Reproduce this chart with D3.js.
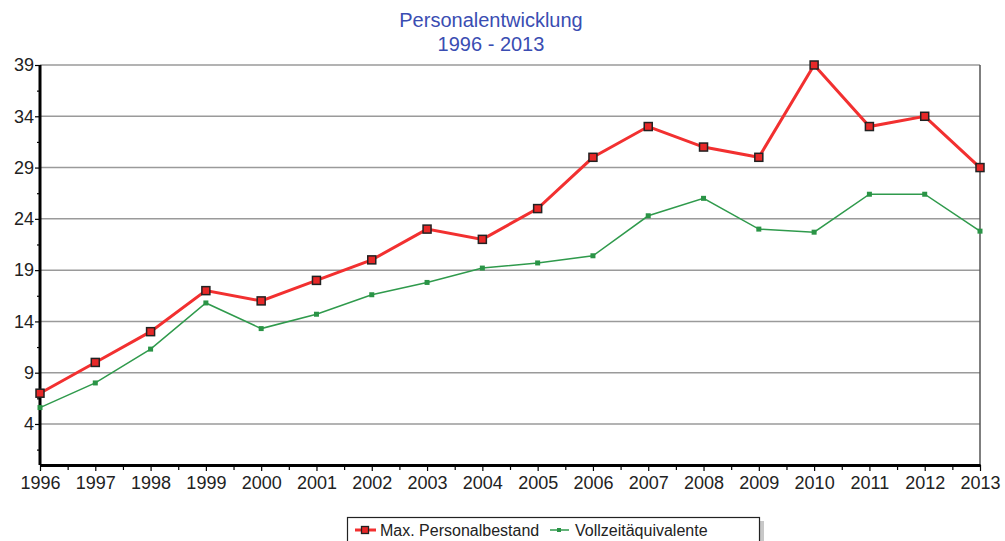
<!DOCTYPE html>
<html>
<head>
<meta charset="utf-8">
<script src="https://cdn.jsdelivr.net/npm/d3@7"></script>
<style>
  body { margin: 0; background: #fff; }
  svg text { font-family: "Liberation Sans", Arial, sans-serif; }
</style>
</head>
<body>
<div id="chart"></div>
<script>
const years = [1996, 1997, 1998, 1999, 2000, 2001, 2002, 2003, 2004, 2005, 2006, 2007, 2008, 2009, 2010, 2011, 2012, 2013];
const maxPersonal = [7, 10, 13, 17, 16, 18, 20, 23, 22, 25, 30, 33, 31, 30, 39, 33, 34, 29];
const vollzeit = [5.6, 8.0, 11.3, 15.8, 13.3, 14.7, 16.6, 17.8, 19.2, 19.7, 20.4, 24.3, 26.0, 23.0, 22.7, 26.4, 26.4, 22.8];
const yTicks = [4, 9, 14, 19, 24, 29, 34, 39];
const yMinor = [1.5, 6.5, 11.5, 16.5, 21.5, 26.5, 31.5, 36.5];
const titleLines = ["Personalentwicklung", "1996 - 2013"];
const seriesNames = ["Max. Personalbestand", "Vollzeitäquivalente"];

const W = 1005, H = 541;
const margin = { top: 65, right: 25, bottom: 76, left: 40 };

const svg = d3.select("#chart").append("svg")
    .attr("width", W)
    .attr("height", H);

const x = d3.scaleLinear()
    .domain([1996, 2013])
    .range([margin.left, W - margin.right]);

const y = d3.scaleLinear()
    .domain([0, 39])
    .range([H - margin.bottom, margin.top]);

// title
svg.selectAll(".title")
    .data(titleLines)
    .enter().append("text")
        .attr("x", 491)
        .attr("y", (d, i) => 27 + i * 24)
        .attr("text-anchor", "middle")
        .style("font-size", "20px")
        .style("fill", "#3a4db2")
        .text(d => d);

// gridlines
svg.append("g")
    .selectAll("line")
    .data(yTicks)
    .enter().append("line")
        .attr("x1", x(1996))
        .attr("x2", x(2013))
        .attr("y1", d => y(d))
        .attr("y2", d => y(d))
        .style("stroke", "#9a9a9a")
        .style("stroke-width", 1.5);

// right border
svg.append("line")
    .attr("x1", x(2013)).attr("x2", x(2013))
    .attr("y1", y(39)).attr("y2", y(0))
    .style("stroke", "#555")
    .style("stroke-width", 1.5);

// y axis
const yAxis = d3.axisLeft(y).tickValues(yTicks).tickSize(5).tickSizeOuter(0);
const gy = svg.append("g")
    .attr("transform", "translate(" + margin.left + ",0)")
    .call(yAxis);
gy.select(".domain").attr("d", "M0," + y(39) + "V" + y(0)).style("stroke", "#000").style("stroke-width", 3);
gy.selectAll(".tick line").style("stroke", "#000").style("stroke-width", 1.2);
gy.selectAll(".tick text").attr("x", -6).style("font-size", "18px").style("fill", "#222")
    .style("font-family", "'Liberation Sans', Arial, sans-serif");

svg.append("g")
    .attr("transform", "translate(" + margin.left + ",0)")
    .call(d3.axisLeft(y).tickValues(yMinor).tickSize(3).tickFormat(""))
    .call(g => g.select(".domain").remove())
    .selectAll("line").style("stroke", "#000").style("stroke-width", 1.2);

// x axis
const xAxis = d3.axisBottom(x).tickValues(years).tickFormat(d3.format("d")).tickSize(6).tickSizeOuter(0);
const gx = svg.append("g")
    .attr("transform", "translate(0," + y(0) + ")")
    .call(xAxis);
gx.select(".domain").style("stroke", "#000").style("stroke-width", 3);
gx.selectAll(".tick line").style("stroke", "#000").style("stroke-width", 1.2);
gx.selectAll(".tick text").attr("y", 11).style("font-size", "18px").style("fill", "#222")
    .style("font-family", "'Liberation Sans', Arial, sans-serif");

svg.append("g")
    .attr("transform", "translate(0," + y(0) + ")")
    .call(d3.axisBottom(x).tickValues(years.slice(0, -1).map(d => d + 0.5)).tickSize(5).tickFormat(""))
    .call(g => g.select(".domain").remove())
    .selectAll("line").style("stroke", "#000").style("stroke-width", 1.2);

// lines
const line = d3.line()
    .x((d, i) => x(years[i]))
    .y(d => y(d));

svg.append("path")
    .datum(vollzeit)
    .attr("d", line)
    .style("fill", "none")
    .style("stroke", "#2f9a4c")
    .style("stroke-width", 1.5);

svg.selectAll(".vz")
    .data(vollzeit)
    .enter().append("rect")
        .attr("class", "vz")
        .attr("x", (d, i) => x(years[i]) - 2.5)
        .attr("y", d => y(d) - 2.5)
        .attr("width", 5)
        .attr("height", 5)
        .style("fill", "#2a9446");

svg.append("path")
    .datum(maxPersonal)
    .attr("d", line)
    .style("fill", "none")
    .style("stroke", "#f23030")
    .style("stroke-width", 3);

svg.selectAll(".mp")
    .data(maxPersonal)
    .enter().append("rect")
        .attr("class", "mp")
        .attr("x", (d, i) => x(years[i]) - 4)
        .attr("y", d => y(d) - 4)
        .attr("width", 8)
        .attr("height", 8)
        .style("fill", "#e82828")
        .style("stroke", "#222")
        .style("stroke-width", 1.5);

// legend
const legend = svg.append("g");
legend.append("rect")
    .attr("x", 351).attr("y", 521)
    .attr("width", 413).attr("height", 30)
    .style("fill", "#c8c8c8");
legend.append("rect")
    .attr("x", 347.5).attr("y", 517.5)
    .attr("width", 412).attr("height", 30)
    .style("fill", "#fff")
    .style("stroke", "#222")
    .style("stroke-width", 1.2);

legend.append("line")
    .attr("x1", 355).attr("x2", 376).attr("y1", 530).attr("y2", 530)
    .style("stroke", "#f23030").style("stroke-width", 3);
legend.append("rect")
    .attr("x", 361.5).attr("y", 526.5).attr("width", 7).attr("height", 7)
    .style("fill", "#e82828").style("stroke", "#222").style("stroke-width", 1.3);
legend.append("text")
    .attr("x", 380).attr("y", 536)
    .style("font-size", "16px").style("fill", "#222")
    .text(seriesNames[0]);

legend.append("line")
    .attr("x1", 550).attr("x2", 569).attr("y1", 530).attr("y2", 530)
    .style("stroke", "#2f9a4c").style("stroke-width", 1.5);
legend.append("rect")
    .attr("x", 557).attr("y", 528).attr("width", 4).attr("height", 4)
    .style("fill", "#2a9446");
legend.append("text")
    .attr("x", 575).attr("y", 536)
    .style("font-size", "16px").style("fill", "#222")
    .text(seriesNames[1]);
</script>
</body>
</html>
